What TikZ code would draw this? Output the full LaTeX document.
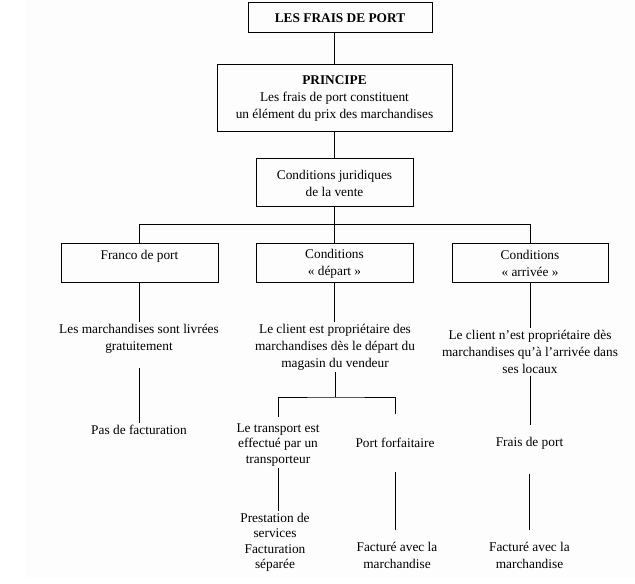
\documentclass[tikz,border=0pt]{standalone}
\usepackage{fontspec}
\setmainfont{Liberation Serif}

\begin{document}
\fontsize{10}{12.75}\selectfont
\begin{tikzpicture}[
    x=0.75pt, y=-0.75pt,
    line width=0.75pt,
    box/.style={draw, rectangle, align=center, inner sep=1pt},
    txt/.style={align=center, inner sep=1pt},
    tight/.style={txt, font=\fontsize{10}{11.6}\selectfont}
]

    % Page
    \useasboundingbox (0,0) rectangle (635,584);
    \fill[black!0.7] (25,0) rectangle (635,578);

    % Top of the tree
    \node[box, font=\bfseries, minimum width=138pt, minimum height=22.5pt] (titre) at (340,18) {LES FRAIS DE PORT};
    \node[box, minimum width=176.25pt, minimum height=50.25pt] (principe) at (334.5,98.5) {\textbf{PRINCIPE}\\Les frais de port constituent\\un élément du prix des marchandises};
    \node[box, minimum width=117.75pt, minimum height=36pt] (juridique) at (334.5,183) {Conditions juridiques\\de la vente};

    % The three conditions
    \coordinate (bus) at (335,225);
    \node[box, minimum width=117.75pt, minimum height=29.25pt] (franco) at (139.5,263.5) {Franco de port\\\mbox{}};
    \node[box, minimum width=117.75pt, minimum height=29.25pt] (depart) at (334.5,263.5) {Conditions\\« départ »};
    \node[box, minimum width=117pt, minimum height=29.25pt] (arrivee) at (530,263.5) {Conditions\\« arrivée »};

    % Franco de port
    \node[txt] (francoTxt) at (139,338.5) {Les marchandises sont livrées\\gratuitement};
    \node[txt] (pas) at (139,430) {Pas de facturation};

    % Depart
    \node[txt] (departTxt) at (335,347) {Le client est propriétaire des\\marchandises dès le départ du\\magasin du vendeur};
    \coordinate (split) at (335,397);
    \node[tight] (transport) at (278,445) {Le transport est\\effectué par un\\transporteur};
    \node[tight] (prestation) at (275,542.5) {Prestation de\\services\\Facturation\\séparée};
    \node[txt] (forfait) at (395,443) {Port forfaitaire};
    \node[txt] (factureA) at (397,555.5) {Facturé avec la\\marchandise};

    % Arrivee
    \node[txt] (arriveeTxt) at (530,352) {Le client n'est propriétaire dès\\marchandises qu'à l'arrivée dans\\ses locaux};
    \node[txt] (frais) at (529.5,443) {Frais de port};
    \node[txt] (factureB) at (529.5,555.5) {Facturé avec la\\marchandise};

    % Connections
    \draw (principe.north) -- (principe.north |- titre.south);
    \draw (principe.south) -- (juridique.north);
    \draw (juridique.south) -- (juridique.south |- bus);
    \draw (franco.north) -- (franco.north |- bus) -- (arrivee.north |- bus) -- (arrivee.north);
    \draw (depart.north) -- (depart.north |- bus);

    \draw (franco.south) -- (franco.south |- francoTxt.north);
    \draw[shorten <=10pt] (francoTxt.south) -- (francoTxt.south |- pas.north);

    \draw (depart.south) -- (depart.south |- departTxt.north);
    \draw (departTxt.south) -- (split);
    \draw[shorten <=4pt, shorten >=16.5pt] (transport.north) |- (split) -| (forfait.north);
    \draw (transport.south) -- (transport.south |- prestation.north);
    \draw[shorten <=17pt, shorten >=8pt] (forfait.south) -- (forfait.south |- factureA.north);

    \draw (arrivee.south) -- (arrivee.south |- arriveeTxt.north);
    \draw[shorten >=7.5pt] (arriveeTxt.south) -- (arriveeTxt.south |- frais.north);
    \draw[shorten <=17pt, shorten >=8pt] (frais.south) -- (frais.south |- factureB.north);

\end{tikzpicture}
\end{document}
